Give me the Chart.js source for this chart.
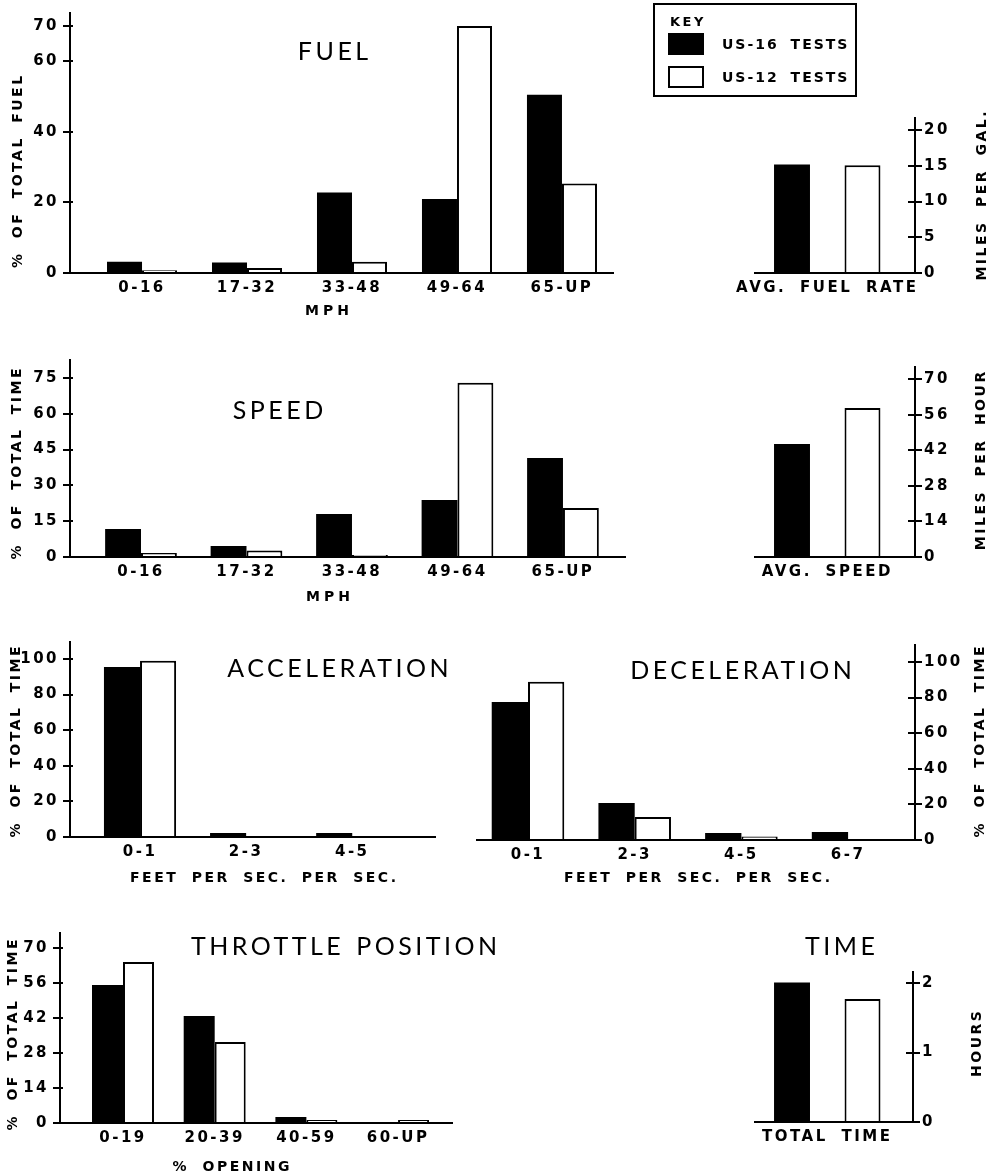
<!DOCTYPE html>
<html>
<head>
<meta charset="utf-8">
<script src="https://cdn.jsdelivr.net/npm/chart.js@4.4.1/dist/chart.umd.min.js"></script>
<style>
  body { margin:0; background:#fff; }
  #wrap { position:absolute; left:0; top:0; width:993px; height:1175px; background:#fff; }
  #wrap canvas { position:absolute; left:0; top:0; }
  #key { position:absolute; left:653px; top:3px; width:200px; height:90px; border:2px solid #000;
         font:bold 14px "DejaVu Sans"; letter-spacing:2px; word-spacing:5px; color:#000; z-index:5; }
  #key .k { position:absolute; left:15px; top:9px; line-height:16px; font-size:13px; letter-spacing:2.5px; }
  #key .sw { position:absolute; left:13px; width:32px; height:18px; border:2px solid #000; }
  #key .lb { position:absolute; left:67px; line-height:22px; }
</style>
</head>
<body>
<div id="wrap"><div id="key"><div class="k">KEY</div></div></div>
<script>
// ── data ─────────────────────────────────────────────────
const key = ['US-16 TESTS', 'US-12 TESTS'];

const mphBands = ['0-16', '17-32', '33-48', '49-64', '65-UP'];
const fuelUS16 = [3.2, 3.0, 22.8, 21.0, 50.5];
const fuelUS12 = [0.8, 1.4, 3.2, 70.0, 25.4];
const fuelTicks = [0, 20, 40, 60, 70];

const fuelRate = [15.2, 15.1];          // miles per gal: US-16, US-12
const mpgTicks = [0, 5, 10, 15, 20];

const speedUS16 = [11.7, 4.6, 18.0, 23.9, 41.5];
const speedUS12 = [1.7, 2.7, 0.8, 73.0, 20.5];
const speedTicks = [0, 15, 30, 45, 60, 75];

const avgSpeed = [44.5, 58.7];          // miles per hour: US-16, US-12
const mphTicks = [0, 14, 28, 42, 56, 70];

const accelBands = ['0-1', '2-3', '4-5'];
const accelUS16 = [95.5, 2.2, 2.2];
const accelUS12 = [99.0, 0, 0];

const decelBands = ['0-1', '2-3', '4-5', '6-7'];
const decelUS16 = [77.5, 20.8, 3.9, 4.5];
const decelUS12 = [88.8, 12.9, 2.0, 0];
const pctTicks = [0, 20, 40, 60, 80, 100];

const throttleBands = ['0-19', '20-39', '40-59', '60-UP'];
const throttleUS16 = [55.2, 42.8, 2.4, 0];
const throttleUS12 = [64.4, 32.4, 1.2, 1.2];
const throttleTicks = [0, 14, 28, 42, 56, 70];

const totalTime = [2.01, 1.77];         // hours: US-16, US-12
const hourTicks = [0, 1, 2];

// ── setup ────────────────────────────────────────────────
const W = 993, H = 1175, AXIS_W = 50, AXIS_H = 40;
Chart.defaults.font = { family: 'DejaVu Sans', size: 15, weight: 'bold' };
Chart.defaults.color = '#000';
Chart.defaults.animation = false;
Chart.defaults.events = [];
Chart.defaults.plugins.legend.display = false;
Chart.defaults.plugins.tooltip.enabled = false;

const TITLE_FONT = '400 25px Lato';
const SMALL_FONT = 'bold 14px "DejaVu Sans"';

// free text (titles, axis captions) + inner halves of the tick marks
const notesPlugin = {
  id: 'notes',
  beforeDraw(chart) {
    chart.ctx.letterSpacing = '2.5px';
    chart.ctx.wordSpacing = '6px';
  },
  afterDraw(chart, args, opts) {
    const ctx = chart.ctx, area = chart.chartArea;
    Object.values(chart.scales).filter(s => s.axis === 'y').forEach(s => {
      const x0 = s.position === 'left' ? area.left : area.right;
      const dir = s.position === 'left' ? 1 : -1;
      ctx.save();
      ctx.strokeStyle = '#000'; ctx.lineWidth = 2;
      s.ticks.forEach(t => {
        const y = Math.round(s.getPixelForValue(t.value));
        ctx.beginPath(); ctx.moveTo(x0, y); ctx.lineTo(x0 + dir * opts.stub, y); ctx.stroke();
      });
      ctx.restore();
    });
    (opts.items || []).forEach(n => {
      const title = n.kind === 'title';
      const sp = n.spacing != null ? n.spacing : (title ? 3.5 : 2.5);
      ctx.save();
      ctx.font = title ? TITLE_FONT : SMALL_FONT;
      ctx.letterSpacing = sp + 'px';
      ctx.wordSpacing = (title ? 2 : 6) + 'px';
      ctx.fillStyle = '#000';
      ctx.textAlign = 'center';
      ctx.textBaseline = 'middle';
      ctx.translate(n.x, n.y);
      if (n.rot) ctx.rotate(n.rot * Math.PI / 180);
      ctx.fillText(n.text, sp / 2, 0);
      ctx.restore();
    });
  }
};

const wrap = document.getElementById('wrap');

function panel(o) {
  const [l, t, r, b] = o.area;
  const left = o.side === 'left';
  const canvas = document.createElement('canvas');
  canvas.width = W; canvas.height = H;
  wrap.appendChild(canvas);

  const xs = o.single ? [[0], [1]] : [o.a.map((_, i) => i), o.b.map((_, i) => i)];
  const us16 = o.single ? [o.a[0]] : o.a;
  const us12 = o.single ? [o.b[0]] : o.b;

  return new Chart(canvas, {
    type: 'bar',
    data: {
      datasets: [
        { label: key[0], data: us16.map((y, i) => ({ x: xs[0][i], y })), backgroundColor: '#000', borderWidth: 0 },
        { label: key[1], data: us12.map((y, i) => ({ x: xs[1][i], y })), backgroundColor: '#fff', borderColor: '#000', borderWidth: 2 }
      ]
    },
    options: {
      responsive: false,
      devicePixelRatio: 1,
      grouped: !o.single,
      categoryPercentage: o.single ? 1 : o.catPct,
      barPercentage: o.single ? 0.51 : 1,
      layout: { padding: {
        left: left ? l - AXIS_W : l,
        right: left ? W - r : W - r - AXIS_W,
        top: t,
        bottom: H - b - AXIS_H
      } },
      scales: {
        x: {
          type: 'linear', min: o.xr[0], max: o.xr[1], bounds: 'data', offset: false,
          grid: { display: false, drawTicks: false },
          border: { display: true, color: '#000', width: 2 },
          ticks: { padding: 6, maxRotation: 0, autoSkip: false, callback: (v, i) => o.names[i] },
          afterBuildTicks: s => { s.ticks = o.tickAt.map(v => ({ value: v })); },
          afterFit: s => { s.height = AXIS_H; }
        },
        y: {
          position: o.side, min: 0, max: o.yMax, bounds: 'data',
          grid: { drawOnChartArea: false, drawTicks: true, tickLength: 7, color: '#000', lineWidth: 2 },
          border: { display: true, color: '#000', width: 2 },
          ticks: { padding: left ? 4 : 2, autoSkip: false },
          afterBuildTicks: s => { s.ticks = o.yTicks.map(v => ({ value: v })); },
          afterFit: s => { s.width = AXIS_W; }
        }
      },
      plugins: { notes: { stub: left ? 3 : 7, items: o.notes } }
    },
    plugins: [notesPlugin]
  });
}

const idx = arr => arr.map((_, i) => i);

const fuelChart = panel({
  area: [70, 12, 613, 273], side: 'left', xr: [-0.686, 4.486], yMax: 73.7, yTicks: fuelTicks,
  names: mphBands, tickAt: idx(mphBands), a: fuelUS16, b: fuelUS12, catPct: 0.667,
  notes: [
    { text: 'FUEL', x: 333, y: 52, kind: 'title' },
    { text: 'MPH', x: 327, y: 311, spacing: 4 },
    { text: '% OF TOTAL FUEL', x: 18, y: 172, rot: -90 }
  ]
});

panel({
  area: [755, 118, 915, 273], side: 'right', xr: [-0.525, 1.745], yMax: 21.7, yTicks: mpgTicks,
  names: ['AVG. FUEL RATE'], tickAt: [0.5], single: true, a: [fuelRate[0]], b: [fuelRate[1]],
  notes: [{ text: 'MILES PER GAL.', x: 982, y: 196, rot: -90 }]
});

panel({
  area: [70, 360, 625, 557], side: 'left', xr: [-0.673, 4.588], yMax: 82.5, yTicks: speedTicks,
  names: mphBands, tickAt: idx(mphBands), a: speedUS16, b: speedUS12, catPct: 0.68,
  notes: [
    { text: 'SPEED', x: 278, y: 411, kind: 'title' },
    { text: 'MPH', x: 328, y: 597, spacing: 4 },
    { text: '% OF TOTAL TIME', x: 17, y: 464, rot: -90 }
  ]
});

panel({
  area: [755, 367, 915, 557], side: 'right', xr: [-0.525, 1.745], yMax: 74.8, yTicks: mphTicks,
  names: ['AVG. SPEED'], tickAt: [0.5], single: true, a: [avgSpeed[0]], b: [avgSpeed[1]],
  notes: [{ text: 'MILES PER HOUR', x: 981, y: 461, rot: -90 }]
});

panel({
  area: [70, 642, 435, 837], side: 'left', xr: [-0.66, 2.78], yMax: 109.5, yTicks: pctTicks,
  names: accelBands, tickAt: idx(accelBands), a: accelUS16, b: accelUS12, catPct: 0.68,
  notes: [
    { text: 'ACCELERATION', x: 338, y: 669, kind: 'title' },
    { text: 'FEET PER SEC. PER SEC.', x: 263, y: 878 },
    { text: '% OF TOTAL TIME', x: 16, y: 742, rot: -90 }
  ]
});

panel({
  area: [477, 645, 915, 840], side: 'right', xr: [-0.478, 3.627], yMax: 109.5, yTicks: pctTicks,
  names: decelBands, tickAt: idx(decelBands), a: decelUS16, b: decelUS12, catPct: 0.68,
  notes: [
    { text: 'DECELERATION', x: 741, y: 671, kind: 'title' },
    { text: 'FEET PER SEC. PER SEC.', x: 697, y: 878 },
    { text: '% OF TOTAL TIME', x: 980, y: 742, rot: -90 }
  ]
});

panel({
  area: [60, 933, 452, 1123], side: 'left', xr: [-0.687, 3.588], yMax: 76, yTicks: throttleTicks,
  names: throttleBands, tickAt: idx(throttleBands), a: throttleUS16, b: throttleUS12, catPct: 0.676,
  notes: [
    { text: 'THROTTLE POSITION', x: 344, y: 947, kind: 'title' },
    { text: '% OPENING', x: 231, y: 1167 },
    { text: '% OF TOTAL TIME', x: 13, y: 1035, rot: -90 }
  ]
});

panel({
  area: [755, 972, 913, 1122], side: 'right', xr: [-0.525, 1.716], yMax: 2.16, yTicks: hourTicks,
  names: ['TOTAL TIME'], tickAt: [0.5], single: true, a: [totalTime[0]], b: [totalTime[1]],
  notes: [
    { text: 'TIME', x: 840, y: 947, kind: 'title' },
    { text: 'HOURS', x: 977, y: 1044, rot: -90 }
  ]
});

// key box built from the datasets of the first chart
const keyBox = document.getElementById('key');
fuelChart.data.datasets.forEach((ds, i) => {
  const sw = document.createElement('span');
  sw.className = 'sw';
  sw.style.top = (28 + i * 33) + 'px';
  sw.style.background = ds.backgroundColor;
  keyBox.appendChild(sw);
  const lb = document.createElement('span');
  lb.className = 'lb';
  lb.style.top = (28 + i * 33) + 'px';
  lb.textContent = ds.label;
  keyBox.appendChild(lb);
});
</script>
</body>
</html>
